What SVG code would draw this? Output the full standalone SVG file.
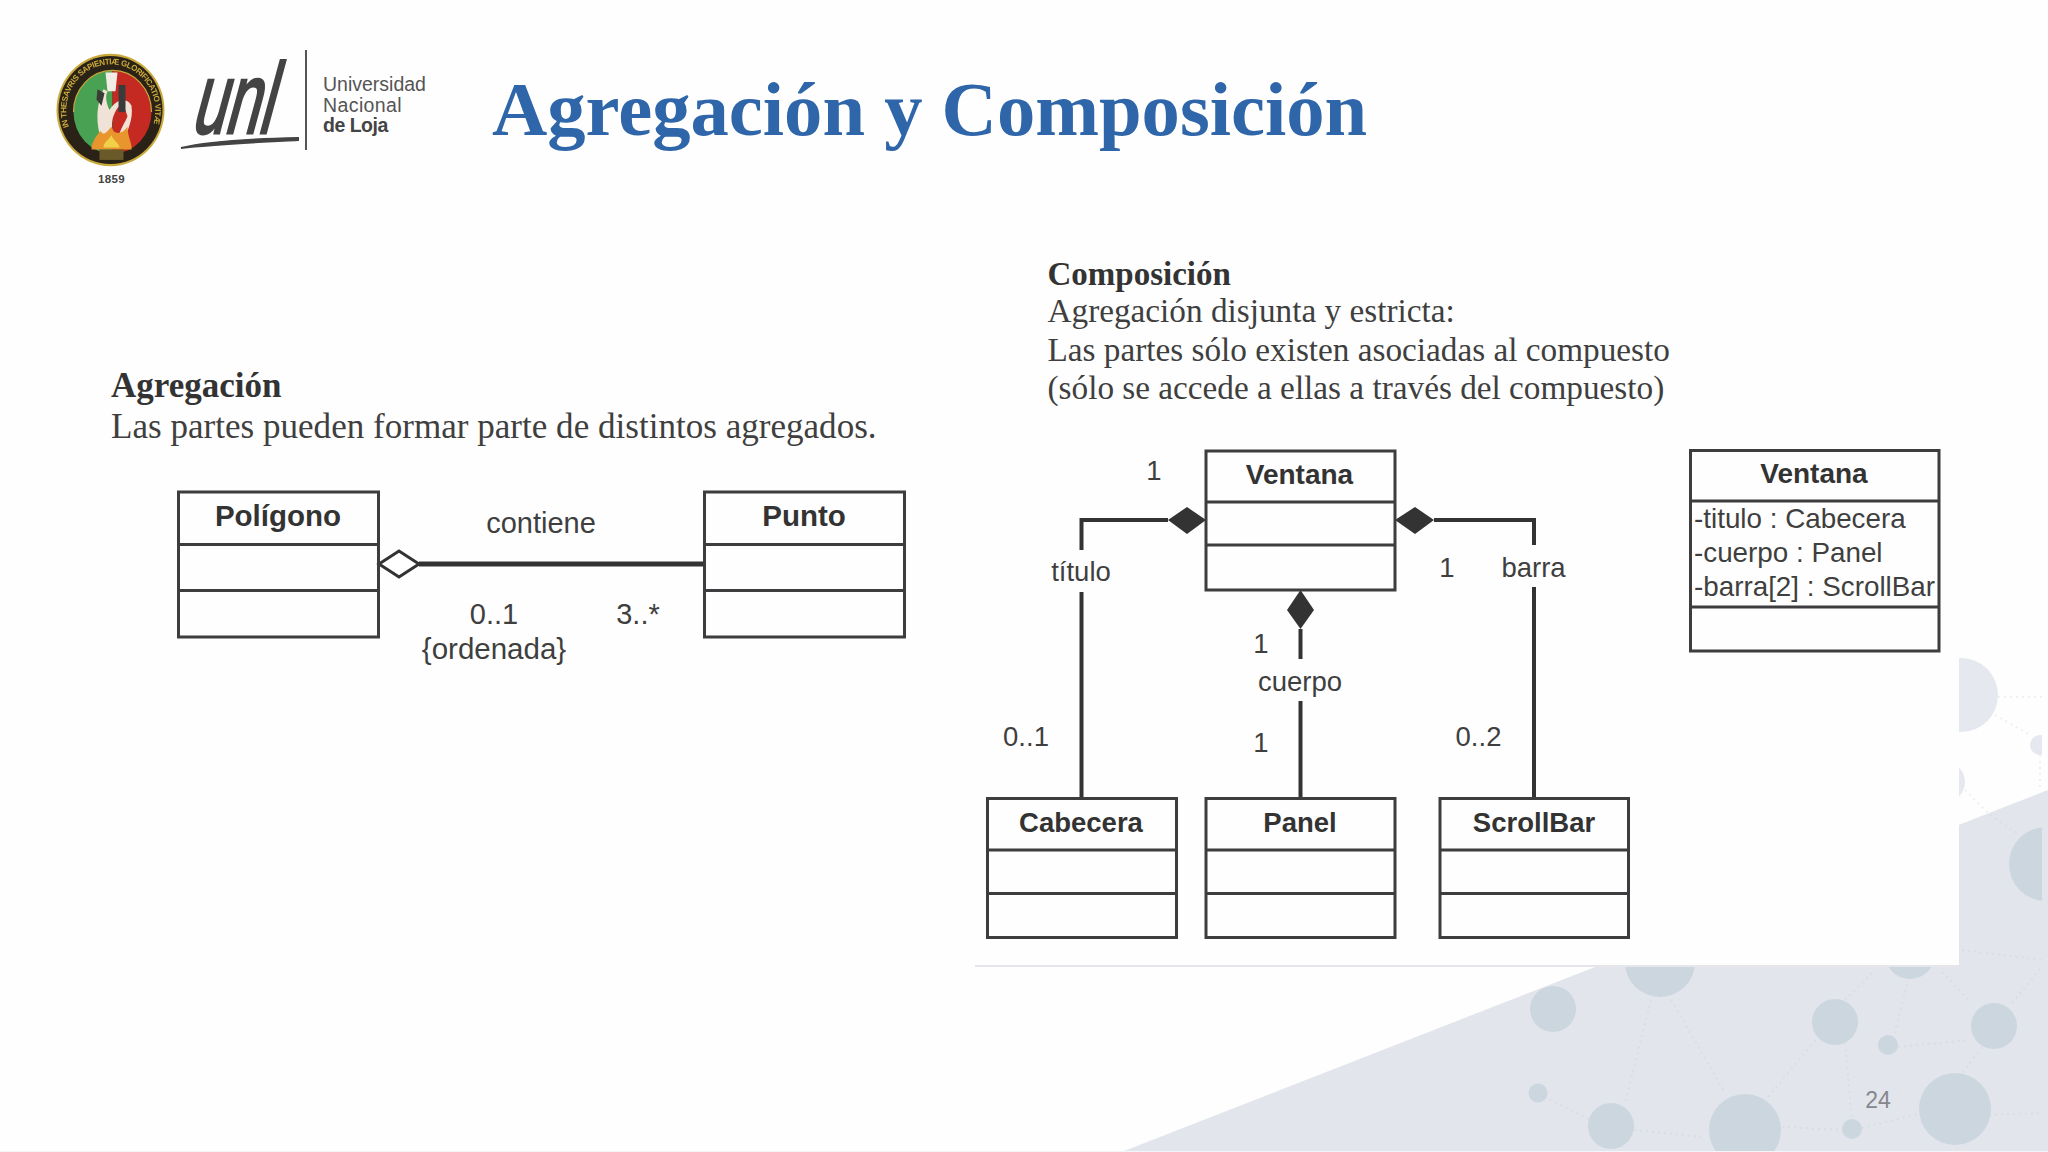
<svg xmlns="http://www.w3.org/2000/svg" width="2048" height="1152" viewBox="0 0 2048 1152">
<style>
.box{fill:none;stroke:#3d3d3f;stroke-width:3}
.sep{stroke:#3d3d3f;stroke-width:3;fill:none}
.cn{font:bold 27.5px "Liberation Sans",Arial,sans-serif;fill:#333;text-anchor:middle}
.lb{font:27.5px "Liberation Sans",Arial,sans-serif;fill:#3f3f3f;text-anchor:middle}
.at{font:27.5px "Liberation Sans",Arial,sans-serif;fill:#3f3f3f}
.ln{stroke:#333;stroke-width:4;fill:none}
.hd{font:bold 33px "Liberation Serif","Times New Roman",serif;fill:#333}
.tx{font:33.25px "Liberation Serif","Times New Roman",serif;fill:#3f3f3f}
.c{fill:#ccd6df}
.cl{fill:#e5e8ef}
.d{stroke:#d9dde4;stroke-width:2;stroke-dasharray:2 4;fill:none}
.dl{stroke:#eef0f4;stroke-width:2;stroke-dasharray:2 4;fill:none}
.un{font:19.5px "Liberation Sans",Arial,sans-serif;fill:#555}
</style>
<defs>
<clipPath id="bgclip"><rect x="0" y="0" width="2042" height="1151"/></clipPath>
<filter id="soft" x="-5%" y="-5%" width="110%" height="110%"><feGaussianBlur stdDeviation="0.5"/></filter>
<path id="ring" d="M69.5 128 A44.5 44.5 0 1 1 153 128"/>
</defs>
<rect width="2048" height="1152" fill="#fefefe"/>
<g id="background">
<polygon points="1124,1151 2048,790 2048,1151" fill="#e2e5ec"/>
<g clip-path="url(#bgclip)">
<path class="d" d="M1651 1000L1625 1103M1671 1000L1725 1093M1768 1097L1818 1037M1845 1043L1852 1120M1898 1047L1969 1040M1895 1033L1908 980M1845 1000L1875 970M1942 972L1969 1000M2012 1003L2042 967M1962 950L2042 960M1862 1128L1922 1113M1782 1127L1842 1130M1634 1130L1701 1137M1544 1097L1591 1120M1989 1115L2042 1113M1982 1047L1962 1073M1990 815L2020 835"/>
<path class="dl" d="M1998 697L2042 697M1995 715L2030 735M2040 755L2040 790M1965 790L1990 815"/>
<circle class="cl" cx="1961" cy="695" r="37"/>
<circle class="cl" cx="2040" cy="745" r="10"/>
<circle class="cl" cx="1945" cy="782" r="20"/>
<circle class="c" cx="2046" cy="864" r="37"/>
<circle class="c" cx="1553" cy="1009" r="23"/>
<circle class="c" cx="1660" cy="962" r="35"/>
<circle class="c" cx="1835" cy="1022" r="23"/>
<circle class="c" cx="1910" cy="954" r="25"/>
<circle class="c" cx="1994" cy="1026" r="23"/>
<circle class="c" cx="1888" cy="1045" r="10"/>
<circle class="c" cx="1955" cy="1109" r="36"/>
<circle class="c" cx="1745" cy="1130" r="36"/>
<circle class="c" cx="1611" cy="1126" r="23"/>
<circle class="c" cx="1538" cy="1093" r="9.5"/>
<circle class="c" cx="1852" cy="1129" r="10"/>
</g>
<rect x="975" y="200" width="984" height="765" fill="#fefefe"/>
<line x1="975" y1="966" x2="1959" y2="966" stroke="#e6e6ea" stroke-width="2"/>
<rect x="0" y="1151" width="2048" height="1" fill="#f4f5f8"/>
<text x="1878" y="1108" font-family="Liberation Sans, Arial, sans-serif" font-size="23" fill="#85868e" text-anchor="middle">24</text>
</g>
<g id="logo">
<g filter="url(#soft)" transform="translate(110.5 110) scale(1 1.04) translate(-111 -112)">
<circle cx="111" cy="112" r="54" fill="#c9a93a"/>
<circle cx="111" cy="112" r="52" fill="#2a2316"/>
<path d="M113 74 A39 40 0 0 0 113 154 Z" fill="#4aa152"/>
<path d="M113 74 A39 40 0 0 1 113 154 Z" fill="#c42a22"/>
<path d="M74 114 A39 40 0 0 1 152 114" fill="none" stroke="#c9a93a" stroke-width="1.2"/>
<path d="M104 92 C98 105 96 118 100 135 C103 145 110 148 116 145 C112 130 110 122 118 110 C124 104 126 112 128 118 C126 124 120 130 118 142 L124 144 C128 130 134 122 132 108 C128 100 118 100 110 112 C106 104 106 98 108 94 Z" fill="#f0e2d6"/>
<path d="M106 76 L118 76 L116 94 L108 94 Z" fill="#f1ece6"/>
<rect x="119" y="88" width="7" height="26" fill="#3a3a3a"/>
<path d="M98 92 L105 96 L102 108 L97 102 Z" fill="#3a3a34"/>
<path d="M92 150 C92 142 98 136 101 132 C104 138 108 132 112 128 C114 136 122 136 128 128 C128 138 133 144 132 150 Z" fill="#e8952e"/>
<path d="M104 148 C104 143 110 140 112 136 C114 142 120 144 120 148 Z" fill="#f0cf4a"/>
<rect x="100" y="150" width="24" height="10" fill="#6a5a2a"/>
<text font-family="Liberation Sans, Arial, sans-serif" font-weight="bold" font-size="8" fill="#c9a93a" textLength="168"><textPath href="#ring">IN THESAVRIS SAPIENTIÆ GLORIFICATIO VITÆ</textPath></text>
</g>
<text x="111.5" y="183" font-family="Liberation Sans, Arial, sans-serif" font-weight="bold" font-size="11.5" fill="#444" text-anchor="middle" letter-spacing="0.3">1859</text>
<text transform="matrix(0.6 0 -0.27 1 190 133)" x="0" y="0" font-family="Liberation Sans, Arial, sans-serif" font-size="100" fill="#444" stroke="#444" stroke-width="3">unl</text>
<path d="M181 148 C210 141 250 139 298 138 L298 140 C260 142 215 144 181 148 Z" fill="#444" stroke="#444" stroke-width="2"/>
<line x1="306" y1="50" x2="306" y2="150" stroke="#555" stroke-width="2"/>
<text class="un" x="323" y="91">Universidad</text>
<text class="un" x="323" y="112" letter-spacing="0.4">Nacional</text>
<text class="un" x="323" y="132" letter-spacing="-0.5" style="font-weight:bold;fill:#444">de Loja</text>
</g>
<text id="title" x="492" y="135" font-family="Liberation Serif, Times New Roman, serif" font-weight="bold" font-size="76.6" fill="#2f66aa">Agregación y Composición</text>
<g id="text-left">
<text class="hd" x="111" y="397" style="font-size:35px">Agregación</text>
<text class="tx" x="111" y="438" style="font-size:35.1px">Las partes pueden formar parte de distintos agregados.</text>
</g>
<g id="text-right">
<text class="hd" x="1047.5" y="285">Composición</text>
<text class="tx" x="1047.5" y="322">Agregación disjunta y estricta:</text>
<text class="tx" x="1047.5" y="361">Las partes sólo existen asociadas al compuesto</text>
<text class="tx" x="1047.5" y="399">(sólo se accede a ellas a través del compuesto)</text>
</g>
<g id="connectors">
<line class="ln" x1="419" y1="564" x2="704" y2="564" style="stroke-width:5"/>
<polygon points="379,564 399,551 419,564 399,577" fill="#fff" stroke="#333" stroke-width="3"/>
<text class="lb" x="541" y="533" style="font-size:29px">contiene</text>
<text class="lb" x="494" y="624" style="font-size:29px">0..1</text>
<text class="lb" x="638" y="624" style="font-size:29px">3..*</text>
<text class="lb" x="494" y="659" style="font-size:29.5px">{ordenada}</text>
<path class="ln" d="M1168 520H1081.5V550M1081.5 592V798"/>
<polygon points="1168,520 1187,507 1206,520 1187,534" fill="#333"/>
<path class="ln" d="M1434 520H1534V545M1534 587V798"/>
<polygon points="1395,520 1415,507 1434,520 1415,534" fill="#333"/>
<path class="ln" d="M1300.5 629V659M1300.5 701V798"/>
<polygon points="1300.5,590 1314,610 1300.5,629 1287,610" fill="#333"/>
<text class="lb" x="1154" y="480">1</text>
<text class="lb" x="1081" y="581">título</text>
<text class="lb" x="1026" y="746">0..1</text>
<text class="lb" x="1447" y="577">1</text>
<text class="lb" x="1533.5" y="577">barra</text>
<text class="lb" x="1478.5" y="746">0..2</text>
<text class="lb" x="1261" y="653">1</text>
<text class="lb" x="1300" y="691">cuerpo</text>
<text class="lb" x="1261" y="752">1</text>
</g>
<g id="poligono">
<rect class="box" x="178.5" y="492" width="200" height="145"/>
<path class="sep" d="M178.5 544.5H378.5M178.5 590.5H378.5"/>
<text class="cn" x="278" y="526" style="font-size:29.5px">Polígono</text>
</g>
<g id="punto">
<rect class="box" x="704.5" y="492" width="200" height="145"/>
<path class="sep" d="M704.5 544.5H904.5M704.5 590.5H904.5"/>
<text class="cn" x="804" y="526" style="font-size:29.5px">Punto</text>
</g>
<g id="ventana">
<rect class="box" x="1206" y="451" width="189" height="139"/>
<path class="sep" d="M1206 502H1395M1206 545H1395"/>
<text class="cn" x="1299.5" y="484" style="font-size:28px">Ventana</text>
</g>
<g id="cabecera">
<rect class="box" x="987.5" y="798.5" width="189" height="139"/>
<path class="sep" d="M987.5 850H1176.5M987.5 893.5H1176.5"/>
<text class="cn" x="1081" y="832">Cabecera</text>
</g>
<g id="panel">
<rect class="box" x="1206" y="798.5" width="189" height="139"/>
<path class="sep" d="M1206 850H1395M1206 893.5H1395"/>
<text class="cn" x="1300" y="832">Panel</text>
</g>
<g id="scrollbar">
<rect class="box" x="1440" y="798.5" width="188.5" height="139"/>
<path class="sep" d="M1440 850H1628.5M1440 893.5H1628.5"/>
<text class="cn" x="1534" y="832">ScrollBar</text>
</g>
<g id="ventana-attrs">
<rect class="box" x="1690.5" y="450.5" width="248.5" height="200.5"/>
<path class="sep" d="M1690.5 501H1939M1690.5 607H1939"/>
<text class="cn" x="1814" y="483" style="font-size:28px">Ventana</text>
<text class="at" x="1694" y="528" style="font-size:27.8px">-titulo : Cabecera</text>
<text class="at" x="1694" y="562" style="font-size:27.8px">-cuerpo : Panel</text>
<text class="at" x="1694" y="596" style="font-size:27.8px">-barra[2] : ScrollBar</text>
</g>
</svg>
